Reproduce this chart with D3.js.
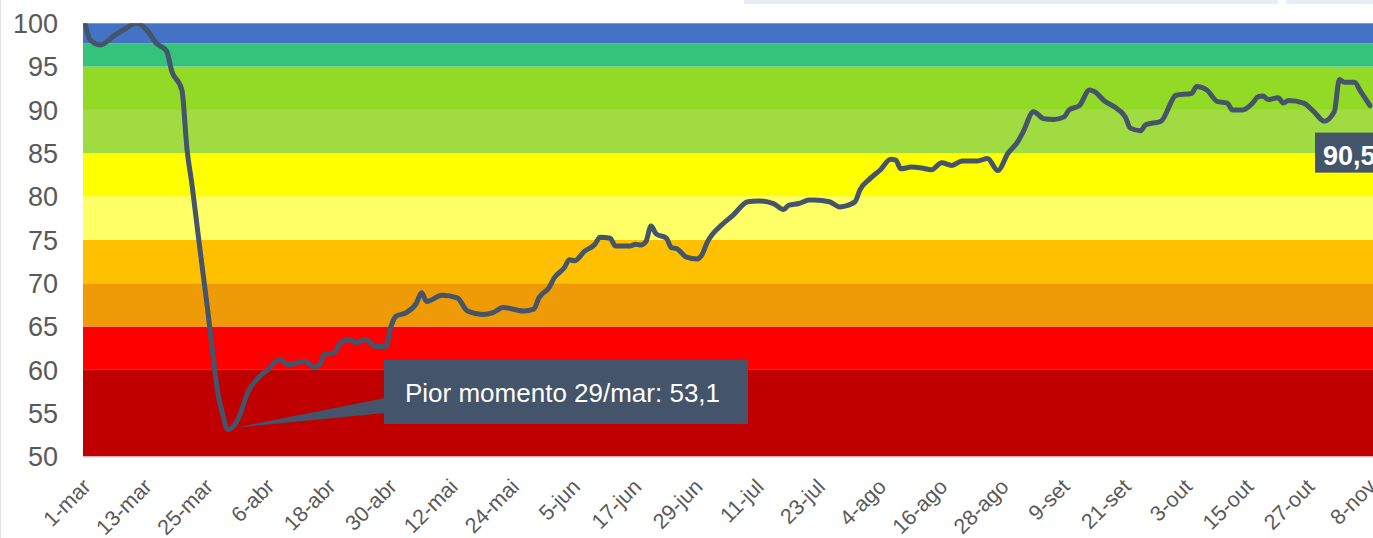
<!DOCTYPE html>
<html>
<head>
<meta charset="utf-8">
<script src="https://d3js.org/d3.v7.min.js"></script>
<style>
  body { margin: 0; background: #fff; }
  svg { display: block; font-family: "Liberation Sans", Arial, sans-serif; }
</style>
</head>
<body>
<svg width="1373" height="538"></svg>
<script>

// dias (dd/mm de 2020) e o indice de cada dia
var datas = ["01/03","02/03","04/03","07/03","09/03","11/03","13/03","15/03","17/03","18/03",
  "20/03","21/03","22/03","23/03","24/03","25/03","26/03","27/03","28/03","29/03",
  "31/03","02/04","04/04","06/04","08/04","10/04","13/04","15/04","16/04","17/04",
  "19/04","20/04","22/04","23/04","25/04","27/04","29/04","30/04","01/05","03/05",
  "05/05","06/05","07/05","10/05","13/05","15/05","18/05","20/05","22/05","26/05",
  "28/05","29/05","31/05","01/06","03/06","04/06","05/06","07/06","09/06","10/06",
  "12/06","13/06","16/06","17/06","18/06","19/06","20/06","21/06","23/06","24/06",
  "25/06","27/06","29/06","30/06","01/07","04/07","06/07","09/07","11/07","14/07",
  "16/07","17/07","19/07","21/07","22/07","25/07","27/07","28/07","30/07","31/07",
  "02/08","04/08","06/08","07/08","08/08","10/08","12/08","14/08","16/08","18/08",
  "20/08","23/08","25/08","27/08","29/08","31/08","01/09","03/09","05/09","07/09",
  "09/09","10/09","12/09","14/09","15/09","17/09","19/09","21/09","22/09","24/09",
  "25/09","28/09","01/10","04/10","05/10","07/10","09/10","11/10","12/10","14/10",
  "16/10","17/10","18/10","19/10","21/10","22/10","23/10","26/10","28/10","30/10",
  "01/11","02/11","03/11","05/11","06/11","08/11"];

var indice = [100,98.1,97.5,98.7,99.4,100,99.3,97.7,96.8,94.5,
  92.3,85.5,81.3,76.5,71.8,67.2,62.2,57.5,54.9,53.1,
  54.3,57.5,59.1,60.1,61.2,60.6,61.0,60.3,60.6,61.8,
  62.0,63.1,63.5,63.1,63.5,62.7,62.7,65.0,66.2,66.6,
  67.7,68.9,67.9,68.6,68.3,66.8,66.4,66.6,67.2,66.8,
  67.0,68.3,69.5,70.6,71.8,72.7,72.6,73.7,74.5,75.3,
  75.2,74.3,74.3,74.5,74.4,74.8,76.6,75.7,75.2,74.1,
  74.0,73.0,72.8,73.3,74.7,76.8,77.8,79.4,79.5,79.2,
  78.5,79.0,79.2,79.6,79.6,79.4,78.8,78.9,79.4,80.8,
  82.1,83.1,84.3,84.2,83.2,83.4,83.3,83.1,83.9,83.6,
  84.1,84.1,84.4,83.0,85.0,86.4,87.5,89.8,89.0,88.9,
  89.2,90.0,90.5,92.3,92.1,91.0,90.3,89.2,87.9,87.6,
  88.3,88.7,91.7,91.9,92.7,92.3,91.0,90.8,90.0,90.0,
  90.8,91.5,91.6,91.2,91.4,90.8,91.1,90.8,89.8,88.7,
  89.8,93.5,93.2,93.2,92.3,90.5];

// faixas coloridas do fundo
var faixaIni = [50, 60, 65, 70, 75, 80, 85, 90, 95, 97.7];
var faixaFim = [60, 65, 70, 75, 80, 85, 90, 95, 97.7, 100];
var faixaCor = ["#c00000","#ff0000","#ee9b07","#ffc000","#ffff66","#ffff00","#a0dc41","#93da26","#35c27b","#4472c4"];

var rotulosX = ["1-mar","13-mar","25-mar","6-abr","18-abr","30-abr","12-mai","24-mai","5-jun","17-jun","29-jun",
  "11-jul","23-jul","4-ago","16-ago","28-ago","9-set","21-set","3-out","15-out","27-out","8-nov"];
var ticksY = [50, 55, 60, 65, 70, 75, 80, 85, 90, 95, 100];

var anotacao = "Pior momento 29/mar: 53,1";
var rotuloFinal = "90,5";

var svg = d3.select("svg"),
    width = +svg.attr("width"),
    height = +svg.attr("height");

var parse = d3.utcParse("%d/%m/%Y");
var dados = datas.map(function(d, i) { return { data: parse(d + "/2020"), v: indice[i] }; });

var x = d3.scaleUtc()
    .domain([dados[0].data, dados[dados.length - 1].data])
    .range([85, 1370]);

var y = d3.scaleLinear()
    .domain([50, 100])
    .range([456.5, 23.3]);

var plotLeft = 83;

// tiras claras no topo (restos de outros elementos da pagina)
svg.append("rect").attr("x", 744).attr("y", 0).attr("width", 534).attr("height", 4).attr("fill", "#e9edf7");
svg.append("rect").attr("x", 1286).attr("y", 0).attr("width", 87).attr("height", 4).attr("fill", "#e9edf7");
svg.append("line").attr("x1", 0.5).attr("x2", 0.5).attr("y1", 0).attr("y2", height)
    .attr("stroke", "#e4e4e4").attr("stroke-width", 1);

// faixas
svg.append("g").selectAll("rect")
  .data(faixaCor)
  .enter().append("rect")
    .attr("x", plotLeft)
    .attr("width", width - plotLeft)
    .attr("y", function(d, i) { return y(faixaFim[i]); })
    .attr("height", function(d, i) { return y(faixaIni[i]) - y(faixaFim[i]); })
    .attr("fill", function(d) { return d; });

// linha do eixo x
svg.append("line")
    .attr("x1", plotLeft).attr("x2", width)
    .attr("y1", y(50) + 0.5).attr("y2", y(50) + 0.5)
    .attr("stroke", "#d9d9d9").attr("stroke-width", 1.2);

// eixo y
svg.append("g").selectAll("text")
  .data(ticksY)
  .enter().append("text")
    .attr("x", 58)
    .attr("y", function(d) { return y(d); })
    .attr("dy", "0.36em")
    .attr("text-anchor", "end")
    .attr("font-size", 27)
    .attr("fill", "#595959")
    .text(function(d) { return d; });

// eixo x, um rotulo a cada 12 dias
var inicio = dados[0].data;
svg.append("g").selectAll("text")
  .data(rotulosX)
  .enter().append("text")
    .attr("transform", function(d, i) {
      var px = x(d3.utcDay.offset(inicio, i * 12));
      return "translate(" + (px + 7) + ",488) rotate(-45)";
    })
    .attr("text-anchor", "end")
    .attr("font-size", 21.5)
    .attr("fill", "#595959")
    .text(function(d) { return d; });

// linha
svg.append("clipPath").attr("id", "clip")
  .append("rect").attr("x", plotLeft).attr("y", y(100)).attr("width", width - plotLeft).attr("height", y(50) - y(100));

var line = d3.line()
    .x(function(d) { return x(d.data); })
    .y(function(d) { return y(d.v); })
    .curve(d3.curveMonotoneX);

svg.append("path")
    .datum(dados)
    .attr("clip-path", "url(#clip)")
    .attr("d", line)
    .attr("fill", "none")
    .attr("stroke", "#44546a")
    .attr("stroke-width", 5)
    .attr("stroke-linejoin", "round")
    .attr("stroke-linecap", "round");

// anotacao do pior momento
var pior = dados[d3.minIndex(dados, function(d) { return d.v; })];
var px = x(pior.data), py = y(pior.v);
var boxX = 384, boxY = 360, boxW = 364, boxH = 64;

svg.append("path")
    .attr("d", "M" + (px + 8) + "," + (py - 2) + "L" + (boxX + 1) + "," + 398 + "L" + (boxX + 1) + "," + 413 + "Z")
    .attr("fill", "#44546a");

svg.append("rect")
    .attr("x", boxX).attr("y", boxY).attr("width", boxW).attr("height", boxH)
    .attr("fill", "#44546a");

svg.append("text")
    .attr("x", boxX + 21).attr("y", boxY + 42)
    .attr("font-size", 26)
    .attr("fill", "#fff")
    .text(anotacao);

// rotulo do ultimo valor
var ult = dados[dados.length - 1];
var ux = x(ult.data), uy = y(ult.v);
svg.append("rect")
    .attr("x", ux - 55).attr("y", uy + 27).attr("width", 70).attr("height", 40)
    .attr("fill", "#44546a");
svg.append("text")
    .attr("x", ux - 47).attr("y", uy + 59)
    .attr("font-size", 27)
    .attr("font-weight", "bold")
    .attr("fill", "#fff")
    .text(rotuloFinal);

</script>
</body>
</html>
